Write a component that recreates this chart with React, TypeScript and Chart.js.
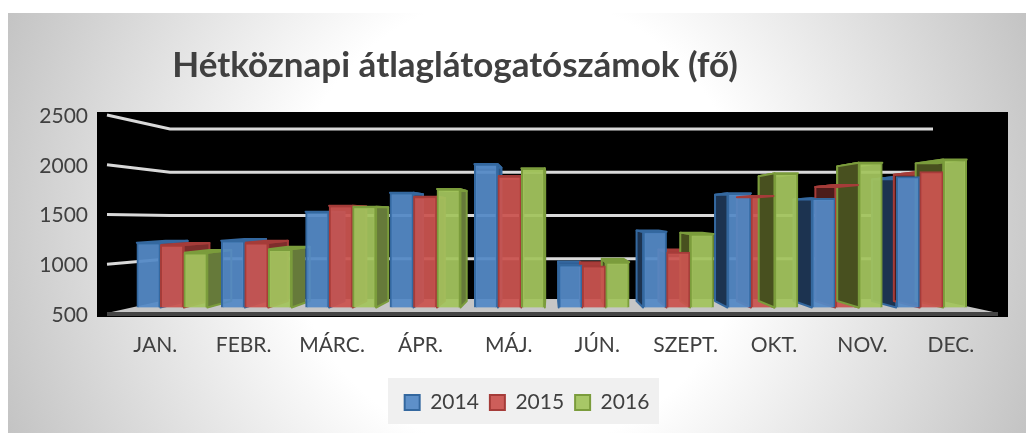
import React, { useEffect, useRef } from "react";
import { Chart, registerables } from "chart.js";

Chart.register(...registerables);

const categories = ["JAN.", "FEBR.", "MÁRC.", "ÁPR.", "MÁJ.", "JÚN.", "SZEPT.", "OKT.", "NOV.", "DEC."];
const values2014 = [1200, 1222, 1535, 1740, 2050, 960, 1320, 1735, 1680, 1914];
const values2015 = [1175, 1200, 1600, 1698, 1921, 950, 1098, 1705, 1824, 1968];
const values2016 = [1092, 1130, 1590, 1780, 2005, 990, 1295, 1950, 2065, 2100];
const seriesNames = ["2014", "2015", "2016"];
const gridValues = [2500, 2000, 1500, 1000];
const overlayCategories = ["OKT.", "NOV."];

const FONT = "Lato, Carlito, sans-serif";
const TEXT = "#404040";
const VP_X = 550;
const DEPTH = 0.93;
const WALL = 0.87;
const TITLE_SHIFT = -52.5;
const LEGEND_SHIFT = 19.5;

const look = [
  { fill: "rgba(84,137,198,0.94)", border: "#34689f", side: "#2c5482", inner: "#1c3350", top: "#2f5f96" },
  { fill: "rgba(202,84,80,0.94)", border: "#a53c39", side: "#7e2e2c", inner: "#4c1c1b", top: "#ad3d3a" },
  { fill: "rgba(163,196,94,0.94)", border: "#7b9c3c", side: "#667a3a", inner: "#48501f", top: "#7b9c3c" },
];

const poly = (ctx: CanvasRenderingContext2D, pts: number[][]) => {
  ctx.beginPath();
  pts.forEach((p, i) => (i ? ctx.lineTo(p[0], p[1]) : ctx.moveTo(p[0], p[1])));
  ctx.closePath();
};

const drawDepth = (chart: any, index: number, only?: string[], what = "both") => {
  const ctx: CanvasRenderingContext2D = chart.ctx;
  const vy = chart.scales.yb.getPixelForValue(1500);
  const meta = chart.getDatasetMeta(index);
  const c = look[index];
  const firstBars = chart.getDatasetMeta(0).data;
  ctx.save();
  ctx.lineWidth = 2;
  ctx.lineJoin = "round";
  meta.data.forEach((bar: any, i: number) => {
    if (only && !only.includes(categories[i])) return;
    const xl = bar.x - bar.width / 2;
    const xr = bar.x + bar.width / 2;
    const yt = bar.y;
    const yb = bar.base;
    const bx = (x: number) => VP_X + (x - VP_X) * DEPTH;
    const by = (p: number) => vy + (p - vy) * DEPTH;
    ctx.strokeStyle = c.border;
    const top = [[xl, yt], [xr, yt], [bx(xr), by(yt)], [bx(xl), by(yt)]];
    if (what !== "top") {
      if (xr < VP_X) {
        const side = [[xr, yt], [xr, yb], [bx(xr), by(yb)], [bx(xr), by(yt)]];
        ctx.save();
        const next = firstBars[i + 1];
        if (next) {
          ctx.beginPath();
          ctx.rect(0, 0, next.x - next.width / 2, 433);
          ctx.clip();
        }
        ctx.fillStyle = c.side;
        poly(ctx, side);
        ctx.fill();
        ctx.restore();
        poly(ctx, side);
        ctx.stroke();
      } else if (xl > VP_X) {
        const side = [[xl, yt], [xl, yb], [bx(xl), by(yb)], [bx(xl), by(yt)]];
        ctx.fillStyle = c.inner;
        poly(ctx, side);
        ctx.fill();
        ctx.stroke();
      }
    }
    if (what !== "side") {
      ctx.fillStyle = c.top;
      poly(ctx, top);
      ctx.fill();
      ctx.stroke();
    }
  });
  ctx.restore();
};

const scenery = {
  id: "scenery",
  beforeDraw(chart: any) {
    const ctx: CanvasRenderingContext2D = chart.ctx;
    ctx.save();
    ctx.fillStyle = "#ffffff";
    ctx.fillRect(0, 0, 1026, 433);
    const g = ctx.createRadialGradient(517, 223, 0, 517, 223, 570);
    g.addColorStop(0, "#ffffff");
    g.addColorStop(0.4, "#ffffff");
    g.addColorStop(1, "#c0c0c0");
    ctx.fillStyle = g;
    ctx.fillRect(8, 13, 1018, 420);

    ctx.fillStyle = "#f0f0f0";
    ctx.fillRect(388, 378, 271, 46);
    ctx.fillStyle = "#000000";
    ctx.fillRect(97, 112, 911, 205);

    const y = chart.scales.y;
    const mid = y.getPixelForValue(1500);
    const toWall = (v: number) => mid + (y.getPixelForValue(v) - mid) * WALL;
    const base = y.getPixelForValue(500);

    ctx.fillStyle = "#c6c6c6";
    poly(ctx, [[107, base - 2], [170, toWall(500) - 3], [933, toWall(500) - 3], [998, base - 2]]);
    ctx.fill();
    ctx.fillStyle = "#454545";
    poly(ctx, [[107, base - 3], [998, base - 3], [998, base + 1], [107, base + 1]]);
    ctx.fill();

    ctx.strokeStyle = "#d9d9d9";
    ctx.lineWidth = 3;
    for (const v of gridValues) {
      ctx.beginPath();
      ctx.moveTo(107, y.getPixelForValue(v) - 1);
      ctx.lineTo(170, toWall(v));
      ctx.lineTo(933, toWall(v));
      ctx.stroke();
    }
    ctx.restore();

    chart.titleBlock.left += TITLE_SHIFT;
    chart.titleBlock.right += TITLE_SHIFT;
    chart.legend.left += LEGEND_SHIFT;
    chart.legend.right += LEGEND_SHIFT;
  },
  beforeDatasetsDraw(chart: any) {
    [0, 1, 2].forEach((i) => drawDepth(chart, i));
    chart.getDatasetMeta(0).controller.draw();
    chart.getDatasetMeta(1).controller.draw();
    drawDepth(chart, 2, overlayCategories, "side");
    drawDepth(chart, 1, overlayCategories, "top");
    chart.getDatasetMeta(2).controller.draw();
    return false;
  },
  afterDraw(chart: any) {
    chart.titleBlock.left -= TITLE_SHIFT;
    chart.titleBlock.right -= TITLE_SHIFT;
    chart.legend.left -= LEGEND_SHIFT;
    chart.legend.right -= LEGEND_SHIFT;
  },
};

const toPoints = (vals: number[]) => vals.map((y, x) => ({ x, y }));

export default function App() {
  const ref = useRef<HTMLCanvasElement>(null);
  useEffect(() => {
    document.body.style.margin = "0";
    const allSeries = [values2014, values2015, values2016];
    const chart = new Chart(ref.current as HTMLCanvasElement, {
      type: "bar",
      data: {
        labels: categories,
        datasets: allSeries.map((vals, i) => ({
          label: seriesNames[i],
          data: toPoints(vals) as any,
          xAxisID: "xb",
          yAxisID: "yb",
          base: 500,
          backgroundColor: look[i].fill,
          borderColor: look[i].border,
          borderWidth: 2,
          barThickness: 23.5,
        })),
      },
      options: {
        responsive: false,
        animation: false,
        layout: { padding: { left: 20, right: 31, top: 0, bottom: 10 } },
        scales: {
          x: {
            type: "category",
            offset: true,
            grid: { display: false, drawTicks: false },
            border: { display: false },
            ticks: { color: TEXT, font: { family: FONT, size: 21 }, padding: 18, maxRotation: 0, autoSkip: false },
            afterFit: (s: any) => { s.height = 66; },
          },
          y: {
            type: "linear",
            min: 500,
            max: 2500,
            grid: { display: false, drawTicks: false },
            border: { display: false },
            ticks: { color: TEXT, stepSize: 500, font: { family: FONT, size: 21 }, padding: 23, format: { useGrouping: false } },
            afterFit: (s: any) => { s.width = 91; },
          },
          xb: { type: "linear", display: false, offset: false, min: -0.7236, max: 9.753 },
          yb: { type: "linear", display: false, position: "left", min: 419, max: 2570 },
        },
        plugins: {
          title: {
            display: true,
            text: "Hétköznapi átlaglátogatószámok (fő)",
            color: TEXT,
            font: { family: FONT, size: 35, weight: "bold" },
            padding: { top: 45, bottom: 29 },
          },
          legend: {
            position: "bottom",
            labels: {
              color: TEXT,
              font: { family: FONT, size: 21 },
              boxWidth: 15,
              boxHeight: 15,
              padding: 11,
            },
          },
          tooltip: { enabled: false },
        },
      } as any,
      plugins: [scenery as any],
    });
    return () => chart.destroy();
  }, []);
  return <canvas ref={ref} width={1026} height={433} style={{ position: "absolute", left: 0, top: 0, display: "block" }} />;
}
